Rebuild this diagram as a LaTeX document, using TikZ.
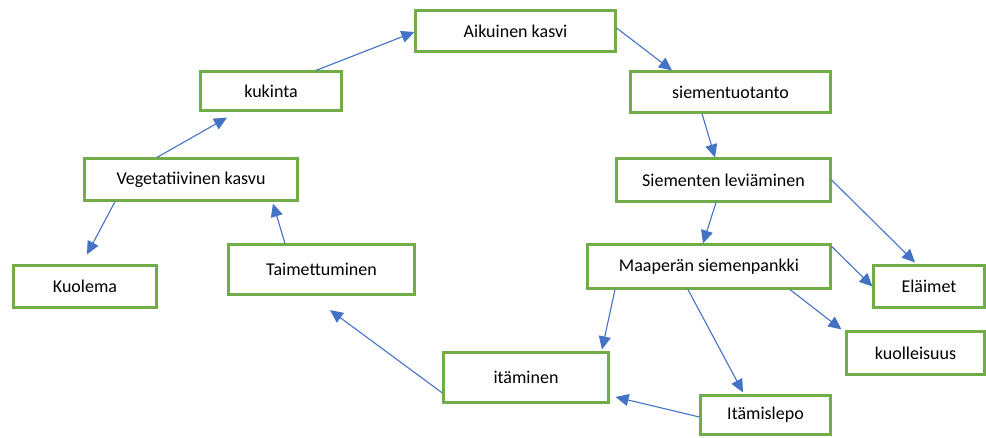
\documentclass[tikz,border=0pt]{standalone}
\usepackage{fontspec}
\setmainfont{Carlito}
\usetikzlibrary{arrows.meta}
\definecolor{boxgreen}{HTML}{70AD47}
\definecolor{arrowblue}{HTML}{4472C4}
\begin{document}
\begin{tikzpicture}[x=1pt,y=-1pt,
  box/.style={draw=boxgreen,line width=2.2pt,fill=white,inner sep=0pt,font=\fontsize{18}{20}\selectfont},
  arr/.style={draw=arrowblue,line width=1.1pt,-{Triangle[length=13pt,width=12pt]}}]
\useasboundingbox (0,0) rectangle (986,437);
\node[box,minimum width=200pt,minimum height=41pt] (aik) at (515.5,31) {Aikuinen kasvi};
\node[box,minimum width=141pt,minimum height=39pt] (kuk) at (271,91) {kukinta};
\node[box,minimum width=213pt,minimum height=42pt] (veg) at (191,179.5) {Vegetatiivinen kasvu};
\node[box,minimum width=200pt,minimum height=41pt] (sie) at (730.5,92) {siementuotanto};
\node[box,minimum width=214pt,minimum height=43pt] (lev) at (723.5,180) {Siementen leviäminen};
\node[box,minimum width=143pt,minimum height=42pt] (kuo) at (85,286.5) {Kuolema};
\node[box,minimum width=186pt,minimum height=50pt] (tai) at (321.5,269.5) {Taimettuminen};
\node[box,minimum width=165pt,minimum height=50pt] (ita) at (526,377.5) {itäminen};
\node[box,minimum width=243pt,minimum height=44pt] (maa) at (709,266.5) {Maaperän siemenpankki};
\node[box,minimum width=111pt,minimum height=42pt] (ela) at (929,286.5) {Eläimet};
\node[box,minimum width=138pt,minimum height=43pt] (kul) at (915.5,353) {kuolleisuus};
\node[box,minimum width=130pt,minimum height=39pt] (lep) at (765.5,415) {Itämislepo};
% connectors
\draw[arr] ([xshift=45pt]kuk.north) -- ([yshift=-1pt]aik.west);
\draw[arr] ([xshift=-34pt]veg.north) -- ([xshift=-44pt,yshift=-6pt]kuk.south);
\draw[arr] ([xshift=-76pt]veg.south) -- ([xshift=2pt,yshift=10pt]kuo.north);
\draw[arr] ([xshift=-36.5pt]tai.north) -- ([xshift=82pt,yshift=-2pt]veg.south);
\draw[arr] ([yshift=-15.5pt]ita.west) -- ([xshift=8.5pt,yshift=-14.5pt]tai.south);
\draw[arr] ([yshift=3pt]aik.east) -- ([xshift=-58.5pt]sie.north);
\draw[arr] ([xshift=-28.5pt]sie.south) -- ([xshift=-8.5pt]lev.north);
\draw[arr] ([xshift=-7.5pt]lev.south) -- ([xshift=-6pt]maa.north);
\draw[arr] (lev.east) -- ([xshift=-14pt,yshift=2pt]ela.north);
\draw[arr] ([yshift=-3pt]maa.north east) -- (ela.west);
\draw[arr] ([xshift=81pt]maa.south) -- ([xshift=-4pt,yshift=1pt]kul.north west);
\draw[arr] ([xshift=-94pt]maa.south) -- ([xshift=76pt,yshift=2pt]ita.north);
\draw[arr] ([xshift=-21pt]maa.south) -- ([xshift=-22.5pt,yshift=2pt]lep.north);
\draw[arr] ([yshift=-2pt]lep.west) -- ([xshift=6pt,yshift=-19.5pt]ita.east);
\end{tikzpicture}
\end{document}
